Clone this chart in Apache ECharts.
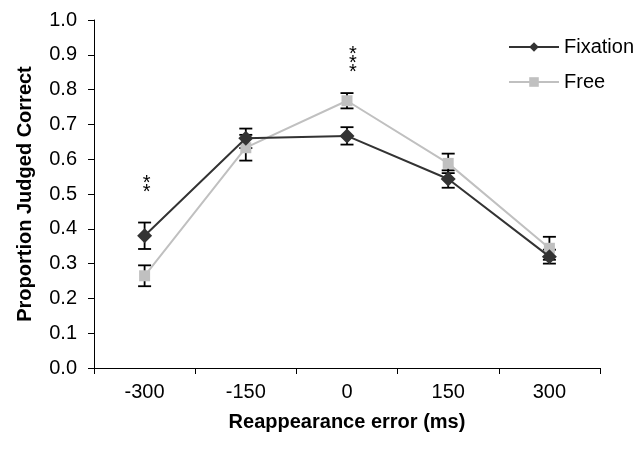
<!DOCTYPE html>
<html><head><meta charset="utf-8">
<script src="https://cdn.jsdelivr.net/npm/echarts@6/dist/echarts.min.js"></script>
<style>html,body{margin:0;padding:0;background:#fff}#c{width:637px;height:453px}</style>
</head><body><div id="c"></div>
<script>
const categories = ['-300', '-150', '0', '150', '300'];
const fixation = [0.38, 0.66, 0.667, 0.543, 0.32];
const fixationErr = [0.038, 0.028, 0.025, 0.025, 0.02];
const free = [0.265, 0.633, 0.768, 0.588, 0.344];
const freeErr = [0.03, 0.037, 0.022, 0.028, 0.033];
const sigIndex = [0, 2];
const sigLabel = ['**', '***'];
const sigY = [0.517, 0.874];
const yTicks = ['0.0','0.1','0.2','0.3','0.4','0.5','0.6','0.7','0.8','0.9','1.0'];

const FONT = 'Liberation Sans, Arial, sans-serif';

function errSeries(vals, errs, z) {
  return {
    type: 'custom', z: z, silent: true,
    data: vals.map((v, i) => [i, v - errs[i], v + errs[i]]),
    renderItem: function (params, api) {
      const lo = api.coord([api.value(0), api.value(1)]);
      const hi = api.coord([api.value(0), api.value(2)]);
      const w = 6.5;
      const st = { stroke: '#000', lineWidth: 1.8 };
      return { type: 'group', children: [
        { type: 'line', shape: { x1: lo[0], y1: lo[1], x2: hi[0], y2: hi[1] }, style: st },
        { type: 'line', shape: { x1: lo[0]-w, y1: lo[1], x2: lo[0]+w, y2: lo[1] }, style: st },
        { type: 'line', shape: { x1: hi[0]-w, y1: hi[1], x2: hi[0]+w, y2: hi[1] }, style: st }
      ]};
    }
  };
}

const chart = echarts.init(document.getElementById('c'), null, { renderer: 'canvas' });
chart.setOption({
  animation: false,
  textStyle: { fontFamily: FONT },
  grid: { left: 94, right: 37, top: 20, bottom: 85 },
  legend: {
    orient: 'vertical', left: 508, top: 37, itemGap: 15, padding: 0,
    itemWidth: 50, itemHeight: 12,
    textStyle: { fontSize: 20, color: '#000', fontFamily: FONT },
    data: ['Fixation', 'Free']
  },
  xAxis: {
    type: 'category', data: categories, boundaryGap: true,
    name: 'Reappearance error (ms)', nameLocation: 'middle', nameGap: 44,
    nameTextStyle: { fontSize: 20, fontWeight: 'bold', color: '#000' },
    axisLine: { lineStyle: { color: '#000', width: 1 } },
    axisTick: { show: true, length: 6, lineStyle: { color: '#000' } },
    axisLabel: { fontSize: 20, color: '#000', margin: 14 }
  },
  yAxis: {
    type: 'value', min: 0, max: 1, interval: 0.1,
    name: 'Proportion Judged Correct', nameLocation: 'middle', nameGap: 59,
    nameTextStyle: { fontSize: 20, fontWeight: 'bold', color: '#000' },
    axisLine: { show: true, lineStyle: { color: '#000', width: 1 } },
    axisTick: { show: true, length: 6, lineStyle: { color: '#000' } },
    splitLine: { show: false },
    axisLabel: { fontSize: 20, color: '#000', margin: 17,
      formatter: v => yTicks[Math.round(v * 10)] }
  },
  series: [
    errSeries(free, freeErr, 3),
    errSeries(fixation, fixationErr, 3),
    {
      name: 'Free', type: 'line', data: free, z: 4,
      symbol: 'rect', symbolSize: 11,
      lineStyle: { color: '#c0c0c0', width: 2 },
      itemStyle: { color: '#c0c0c0' }
    },
    {
      name: 'Fixation', type: 'line', data: fixation, z: 5,
      symbol: 'diamond', symbolSize: 15,
      lineStyle: { color: '#333333', width: 2 },
      itemStyle: { color: '#333333' }
    },
    {
      type: 'custom', silent: true, z: 6,
      data: sigIndex.map((c, i) => [c, sigY[i]]),
      renderItem: function (params, api) {
        const p = api.coord([api.value(0), api.value(1)]);
        const s = sigLabel[params.dataIndex].split('').join('\n');
        return { type: 'text', x: p[0] + (params.dataIndex === 1 ? 6 : 2), y: p[1],
          style: { text: s, fontSize: 20, lineHeight: 9, fill: '#000',
            align: 'center', verticalAlign: 'middle', fontFamily: FONT } };
      }
    }
  ]
});
</script></body></html>
